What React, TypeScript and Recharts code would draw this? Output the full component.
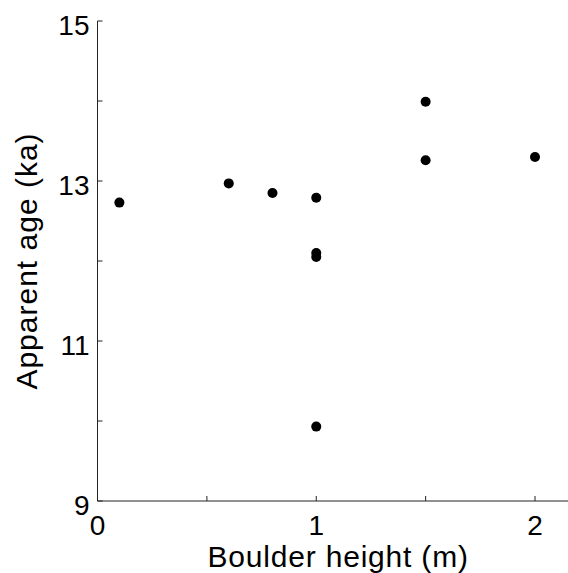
import React from 'react';
import { ScatterChart, Scatter, XAxis, YAxis, ZAxis } from 'recharts';

const boulderHeights = [0.1, 0.6, 0.8, 1.0, 1.0, 1.0, 1.0, 1.5, 1.5, 2.0];
const apparentAges = [12.73, 12.97, 12.85, 12.79, 12.1, 12.05, 9.93, 13.99, 13.26, 13.3];

const xTicks = [0, 0.5, 1, 1.5, 2];
const xTickLabels = ['0', '', '1', '', '2'];
const yTicks = [9, 10, 11, 12, 13, 14, 15];
const yTickLabels = ['9', '', '11', '', '13', '', '15'];

const xDomain = [0, 2.2];
const yDomain = [9, 15];

const data = boulderHeights.map((h, i) => ({ h, age: apparentAges[i] }));

const FONT = '"Liberation Sans", Arial, Helvetica, sans-serif';
const AXIS = '#222';

const Dot = (p: any) => <circle cx={p.cx} cy={p.cy} r={5} fill="#000" />;

export default function App() {
  const xFmt = (v: number) => xTickLabels[xTicks.indexOf(v)] ?? '';
  const yFmt = (v: number) => yTickLabels[yTicks.indexOf(v)] ?? '';
  return (
    <div style={{ position: 'absolute', left: 8, top: 8, width: 560, height: 565, overflow: 'hidden', fontFamily: FONT }}>
      <ScatterChart width={600} height={565} margin={{ top: 13, right: 29.25, bottom: 0, left: 0 }}>
        <XAxis
          dataKey="h"
          type="number"
          domain={xDomain}
          ticks={xTicks}
          tickFormatter={xFmt}
          interval={0}
          height={72}
          tickSize={-5}
          tickMargin={19}
          axisLine={{ stroke: AXIS, strokeWidth: 1 }}
          tickLine={{ stroke: AXIS, strokeWidth: 1 }}
          tick={{ fontSize: 28, fill: '#000', fontFamily: FONT }}
          allowDataOverflow
          label={{ value: 'Boulder height (m)', position: 'insideBottom', offset: 6, fontSize: 30, fill: '#000', fontFamily: FONT, letterSpacing: 0.8 }}
        />
        <XAxis
          xAxisId="top"
          orientation="top"
          type="number"
          domain={xDomain}
          ticks={xTicks}
          tickFormatter={() => ''}
          interval={0}
          height={0}
          tickSize={-5}
          axisLine={{ stroke: AXIS, strokeWidth: 1 }}
          tickLine={{ stroke: AXIS, strokeWidth: 1 }}
          allowDataOverflow
        />
        <YAxis
          dataKey="age"
          type="number"
          domain={yDomain}
          ticks={yTicks}
          tickFormatter={yFmt}
          interval={0}
          width={89.5}
          tickSize={-5}
          tickMargin={13}
          axisLine={{ stroke: AXIS, strokeWidth: 1 }}
          tickLine={{ stroke: AXIS, strokeWidth: 1 }}
          tick={{ fontSize: 28, fill: '#000', fontFamily: FONT, dy: 4 }}
          allowDataOverflow
          label={{ value: 'Apparent age (ka)', angle: -90, position: 'insideLeft', offset: 18, fontSize: 30, fill: '#000', fontFamily: FONT, letterSpacing: 1, style: { textAnchor: 'middle' } }}
        />
        <YAxis
          yAxisId="right"
          orientation="right"
          type="number"
          domain={yDomain}
          ticks={yTicks}
          tickFormatter={() => ''}
          interval={0}
          width={0}
          tickSize={-5}
          axisLine={{ stroke: AXIS, strokeWidth: 1 }}
          tickLine={{ stroke: AXIS, strokeWidth: 1 }}
          allowDataOverflow
        />
        <ZAxis range={[80, 80]} />
        <Scatter data={data} fill="#000" shape={<Dot />} isAnimationActive={false} />
      </ScatterChart>
    </div>
  );
}
